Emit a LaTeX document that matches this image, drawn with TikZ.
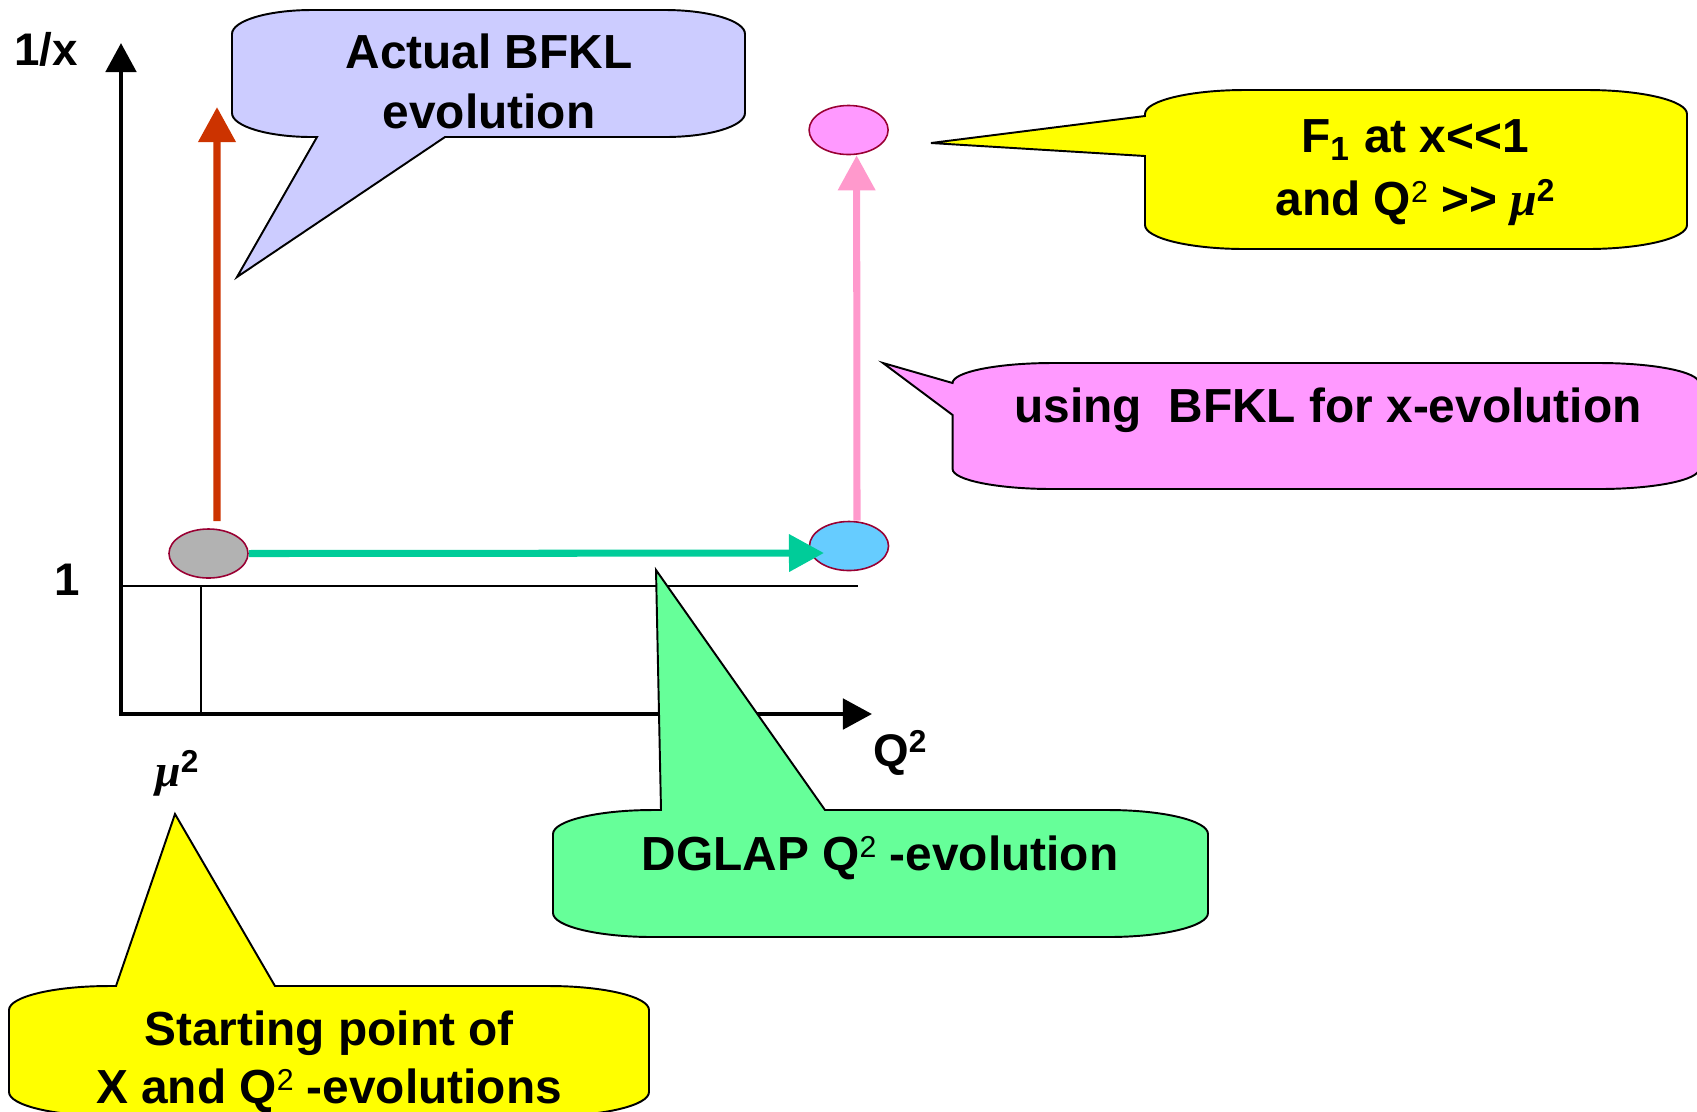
\documentclass[tikz,border=0pt]{standalone}
\usepackage{fontspec}
\setmainfont{Liberation Sans}[Ligatures=TeXOff]
\newfontfamily\mufont{Liberation Serif}
\usetikzlibrary{arrows.meta,shapes.geometric}

\definecolor{lavender}{HTML}{CCCCFF}
\definecolor{ylw}{HTML}{FFFF00}
\definecolor{pinkbox}{HTML}{FF99FF}
\definecolor{greenbox}{HTML}{66FF99}
\definecolor{redarrow}{HTML}{CC3300}
\definecolor{greenarrow}{HTML}{00CC99}
\definecolor{pinkarrow}{HTML}{FF99CC}
\definecolor{rim}{HTML}{990033}
\definecolor{startgray}{HTML}{B2B2B2}
\definecolor{skyblue}{HTML}{66CCFF}

% small raised "2" and a slanted mu
\newcommand\sqtwo{\raisebox{3.6pt}{\fontsize{8.6}{10}\selectfont\mdseries 2}}
\newcommand\mutwo{{\mufont\itshape μ}\raisebox{3.8pt}{\fontsize{9}{10}\selectfont 2}}

\begin{document}
\begin{tikzpicture}[x=0.01cm,y=-0.01cm,
  axis/.style={line width=1.4pt,line join=miter,
    {Triangle[length=0.29cm,width=0.30cm]}-{Triangle[length=0.29cm,width=0.30cm]}},
  guide/.style={line width=0.45pt},
  evo/.style={line width=2pt,-{Triangle[length=0.35cm,width=0.36cm]}},
  blob/.style={ellipse,draw=rim,line width=0.45pt,minimum width=0.79cm,minimum height=0.49cm,inner sep=0pt},
  bubble/.style={draw=black,line width=0.55pt,line join=miter},
  lbl/.style={font=\fontsize{13}{15.6}\selectfont\bfseries,inner sep=0pt},
  ctext/.style={font=\fontsize{13.6}{16.3}\selectfont\bfseries,inner sep=0pt,align=center},
]
\useasboundingbox (0,0) rectangle (1697,1111);
\clip (0,0) rectangle (1697,1111);

% axes and guide lines
\coordinate (O) at (121,714);
\coordinate (ytip) at (121,43);
\coordinate (xtip) at (872,714);
\coordinate (oneL) at (121,586);
\coordinate (oneR) at (858,586);
\coordinate (muB) at (201,714);
\coordinate (muT) at (201,586);
\draw[guide] (oneL) -- (oneR);
\draw[guide] (muT) -- (muB);
\draw[axis] (ytip) -- (O) -- (xtip);

% axis labels
\node[lbl,anchor=base] (lx) at (46,65) {1/x};
\node[lbl,anchor=base] (lone) at (67,595) {1};
\node[lbl,anchor=base] (lmu) at (177,786) {\mutwo};
\node[lbl,anchor=base] (lq) at (900,766) {Q\raisebox{3.8pt}{\fontsize{9}{10}\selectfont 2}};

% states in the (Q^2, 1/x) plane
\node[blob,fill=startgray] (start) at (208.5,553.5) {};
\node[blob,fill=skyblue] (mid) at (849,546) {};
\node[blob,fill=pinkbox] (final) at (848.6,130) {};

% evolution arrows
\coordinate (redtip) at (217,107);
\coordinate (greentip) at (824,553);
\draw[evo,redarrow] ([xshift=0.085cm,yshift=0.07cm]start.north) -- (redtip);
\draw[evo,pinkarrow] ([xshift=0.08cm]mid.north) -- ([xshift=0.08cm]final.south);
\draw[evo,greenarrow] (start.east) -- (greentip);

% callout bubbles
\path[bubble,fill=lavender]
  (232,34) arc[start angle=180,end angle=270,x radius=80,y radius=24]
  -- (665,10) arc[start angle=270,end angle=360,x radius=80,y radius=24]
  -- (745,113) arc[start angle=0,end angle=90,x radius=80,y radius=24]
  -- (445,137) -- (237,277) -- (317,137)
  -- (312,137) arc[start angle=90,end angle=180,x radius=80,y radius=24]
  -- cycle;

\path[bubble,fill=ylw]
  (1145,114) arc[start angle=180,end angle=270,x radius=100,y radius=24]
  -- (1587,90) arc[start angle=270,end angle=360,x radius=100,y radius=24]
  -- (1687,225) arc[start angle=0,end angle=90,x radius=100,y radius=24]
  -- (1245,249) arc[start angle=90,end angle=180,x radius=100,y radius=24]
  -- (1145,156) -- (931,143) -- (1145,116)
  -- cycle;

\path[bubble,fill=pinkbox]
  (952.6,383) arc[start angle=180,end angle=270,x radius=100,y radius=20]
  -- (1599,363) arc[start angle=270,end angle=360,x radius=100,y radius=20]
  -- (1699,469) arc[start angle=0,end angle=90,x radius=100,y radius=20]
  -- (1052.6,489) arc[start angle=90,end angle=180,x radius=100,y radius=20]
  -- (952.6,415) -- (883,363)
  -- cycle;

\path[bubble,fill=greenbox]
  (553,834) arc[start angle=180,end angle=270,x radius=100,y radius=24]
  -- (661,810) -- (656,570) -- (825,810)
  -- (1108,810) arc[start angle=270,end angle=360,x radius=100,y radius=24]
  -- (1208,913) arc[start angle=0,end angle=90,x radius=100,y radius=24]
  -- (653,937) arc[start angle=90,end angle=180,x radius=100,y radius=24]
  -- cycle;

\path[bubble,fill=ylw]
  (9,1010) arc[start angle=180,end angle=270,x radius=100,y radius=24]
  -- (116,986) -- (175,814) -- (275,986)
  -- (549,986) arc[start angle=270,end angle=360,x radius=100,y radius=24]
  -- (649,1092) arc[start angle=0,end angle=90,x radius=100,y radius=24]
  -- (109,1116) arc[start angle=90,end angle=180,x radius=100,y radius=24]
  -- cycle;

% callout texts (base anchor sits on the last line)
\node[ctext,anchor=base] (tbfkl) at (489,128) {Actual BFKL\\[0.5pt]evolution};
\node[ctext,anchor=base] (tfinal) at (1415,215) {F\textsubscript{1} at x<<1\\[1.5pt]and Q\sqtwo\ >> \mutwo};
\node[ctext,anchor=base] (tusing) at (1328,422) {using\ \ BFKL for x-evolution};
\node[ctext,anchor=base] (tdglap) at (880,870) {DGLAP Q\sqtwo\ -evolution};
\node[ctext,anchor=base] (tstart) at (329,1103) {Starting point of\\X and Q\sqtwo\ -evolutions};
\end{tikzpicture}
\end{document}
